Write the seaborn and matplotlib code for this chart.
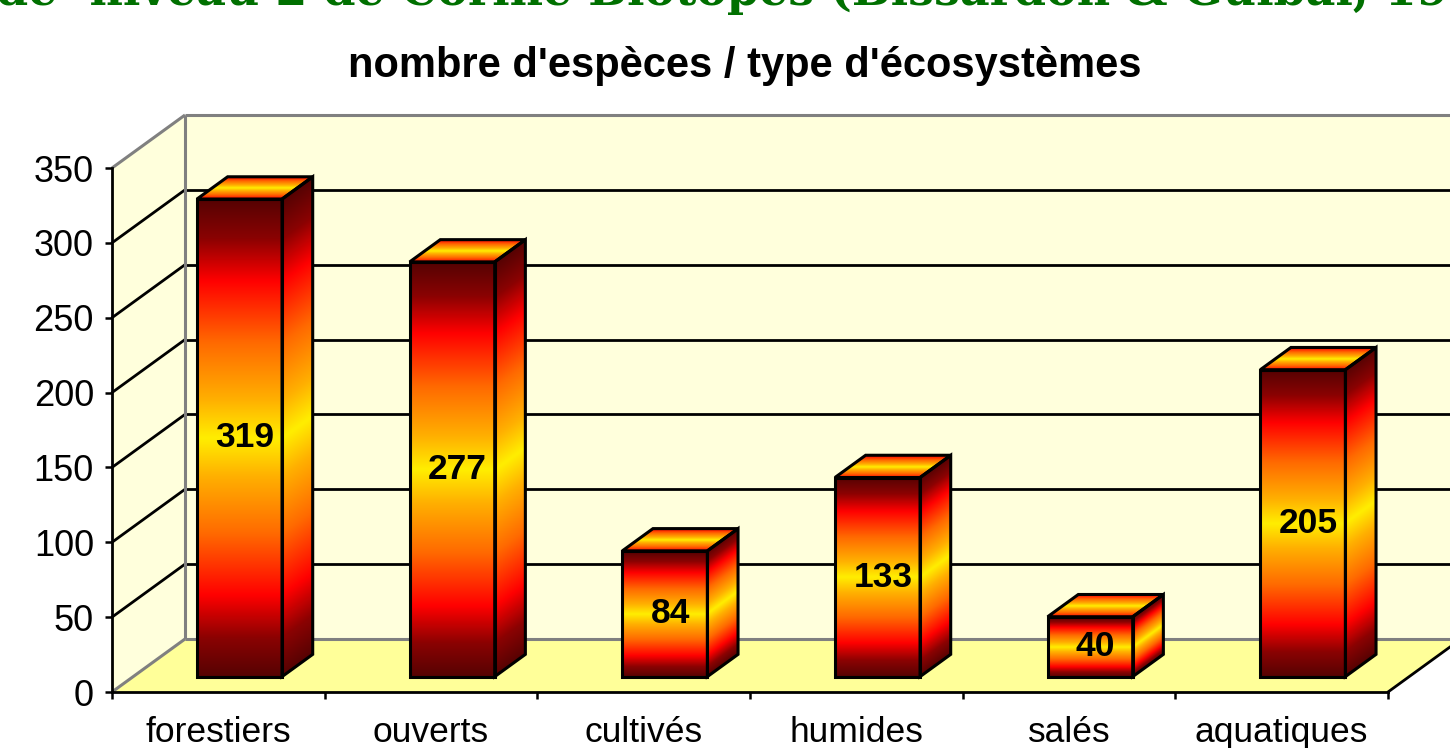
import numpy as np
import matplotlib
matplotlib.use("Agg")
import matplotlib.pyplot as plt
import seaborn as sns
from matplotlib.colors import LinearSegmentedColormap
from matplotlib.patches import Polygon
from matplotlib.transforms import Affine2D

# data
categories = ["forestiers", "ouverts", "cultivés", "humides", "salés", "aquatiques"]
species = [319, 277, 84, 133, 40, 205]
yticks = [0, 50, 100, 150, 200, 250, 300, 350]
title = "nombre d'espèces / type d'écosystèmes"
banner = "de  niveau 2 de Corine Biotopes (Bissardon & Guibal, 1997)"

sns.set_style("ticks")
plt.rcParams["font.family"] = ["Liberation Sans", "DejaVu Sans"]
plt.rcParams["text.color"] = "black"

W, H = 1450, 748
fig = plt.figure(figsize=(W / 100, H / 100), dpi=100)
fig.patch.set_facecolor("white")
ax = fig.add_axes([112 / W, (H - 692) / H, (1388 - 112) / W, (692 - 168) / H])

YMAX = yticks[-1]
DX, DY = 0.3433, 35.4    # oblique shift of the full depth (data units)
D0, D1 = 0.29, 0.71      # depth span of the bars
xl, xr = -0.5, len(categories) - 0.5

fire = LinearSegmentedColormap.from_list("fire", [
    (0.0, "#560303"), (0.08, "#8a0202"), (0.17, "#ff0000"), (0.3, "#ff6a00"),
    (0.42, "#ffb000"), (0.5, "#ffee00"), (0.58, "#ffb000"), (0.7, "#ff6a00"),
    (0.83, "#ff0000"), (0.92, "#8a0202"), (1.0, "#560303")])


def proj(x, y, d):
    return (x + d * DX, y + d * DY)


def gradient_face(ox, oy, e1, e2, lo=0.0, hi=1.0, z=4):
    t = np.repeat(np.linspace(lo, hi, 256).reshape(-1, 1), 2, axis=1)
    im = ax.imshow(t, cmap=fire, vmin=0, vmax=1, extent=(0, 1, 0, 1),
                   origin="lower", aspect="auto", interpolation="bilinear", zorder=z)
    m = np.array([[e1[0], e2[0], ox], [e1[1], e2[1], oy], [0, 0, 1]])
    im.set_transform(Affine2D(m) + ax.transData)


# bars first, so the container holds only them
sns.barplot(x=categories, y=species, width=0.4, color="white", edgecolor="black",
            linewidth=2.2, errorbar=None, ax=ax)
bars = list(ax.containers[0])

# walls and floor
wall_c, floor_c, edge_c = "#ffffdc", "#ffff99", "#808080"
ax.add_patch(Polygon([proj(xl, 0, 1), proj(xr + 1, 0, 1), proj(xr + 1, YMAX, 1), proj(xl, YMAX, 1)],
                     fc=wall_c, ec="none", clip_on=False, zorder=0))
ax.add_patch(Polygon([proj(xl, 0, 0), proj(xl, 0, 1), proj(xl, YMAX, 1), proj(xl, YMAX, 0)],
                     fc=wall_c, ec="none", clip_on=False, zorder=0))
ax.add_patch(Polygon([proj(xl, 0, 0), proj(xr, 0, 0), proj(xr, 0, 1), proj(xl, 0, 1)],
                     fc=floor_c, ec="none", clip_on=False, zorder=0.5))

for v in yticks[1:-1]:
    ax.plot([xl + DX, xr + 1 + DX], [v + DY, v + DY], color="black", lw=2, clip_on=False, zorder=1)
    ax.plot([xl, xl + DX], [v, v + DY], color="black", lw=2, clip_on=False, zorder=1)

gray = dict(color=edge_c, lw=2.2, clip_on=False, zorder=1.2, solid_capstyle="butt")
ax.plot([xl + DX, xr + 1 + DX], [YMAX + DY] * 2, **gray)
ax.plot([xl + DX, xr + 1 + DX], [DY, DY], **gray)
ax.plot([xl + DX, xl + DX], [DY, YMAX + DY], **gray)
ax.plot([xl, xl + DX], [YMAX, YMAX + DY], **gray)
ax.plot([xl, xl + DX], [0, DY], **gray)
ax.plot([xr, xr + DX], [0, DY], color="black", lw=2, clip_on=False, zorder=1.2)

dd = D1 - D0
for p, v in zip(bars, species):
    x0, w, h = p.get_x(), p.get_width(), p.get_height()
    fx, fy = proj(x0, 0, D0)
    p.set_xy((fx, fy))
    p.set_facecolor("none")
    p.set_zorder(6)
    sx, sy = dd * DX, dd * DY
    gradient_face(fx, fy, (w, 0), (0, h))
    gradient_face(fx + w, fy, (sx, sy), (0, h))
    gradient_face(fx, fy + h, (w, 0), (sx, sy), lo=0.17, hi=0.85)
    ax.add_patch(Polygon([(fx + w, fy), (fx + w + sx, fy + sy), (fx + w + sx, fy + h + sy), (fx + w, fy + h)],
                         fc="none", ec="black", lw=2.2, zorder=6))
    ax.add_patch(Polygon([(fx, fy + h), (fx + w, fy + h), (fx + w + sx, fy + h + sy), (fx + sx, fy + h + sy)],
                         fc="none", ec="black", lw=2.2, zorder=6))
    ax.text(fx + w / 2 + 0.025, fy + h / 2, str(v), ha="center", va="center",
            fontsize=25.5, fontweight="bold", color="black", zorder=7)

# axes
ax.patch.set_visible(False)
sns.despine(ax=ax)
for s in ("left", "bottom"):
    ax.spines[s].set_color("black")
    ax.spines[s].set_linewidth(2)
    ax.spines[s].set_zorder(3)
ax.set_yticks(yticks)
ax.set_xticks(np.arange(xl, xr + 0.5, 1), minor=True)
ax.tick_params(axis="y", length=5, width=1.8, pad=8, labelsize=26, color="black", labelcolor="black")
ax.tick_params(axis="x", which="major", length=0, pad=17.5, labelsize=25.5, labelcolor="black")
ax.tick_params(axis="x", which="minor", length=5, width=1.8, color="black", direction="out")
ax.set_xlabel("")
ax.set_ylabel("")
ax.set_xlim(xl, xr)
ax.set_ylim(0, YMAX)

fig.text(745 / W, 1 - 66 / H, title, ha="center", va="center", fontsize=30,
         fontweight="bold", color="black")

# green banner, cut off at the top edge as in the original slide
renderer = fig.canvas.get_renderer()
probe = fig.text(0, 0, "de  niveau 2 de Corine Biotopes (Bissardon & Guibal, ",
                 fontsize=40, fontweight="bold", family="DejaVu Serif")
pw = probe.get_window_extent(renderer).width
probe.remove()
fig.text(-0.003, 1 - 5 / H, banner, ha="left", va="baseline", color="#007000",
         fontweight="bold", family="DejaVu Serif", fontsize=40 * 1385 / pw)

fig.savefig("out.png", dpi=100)
